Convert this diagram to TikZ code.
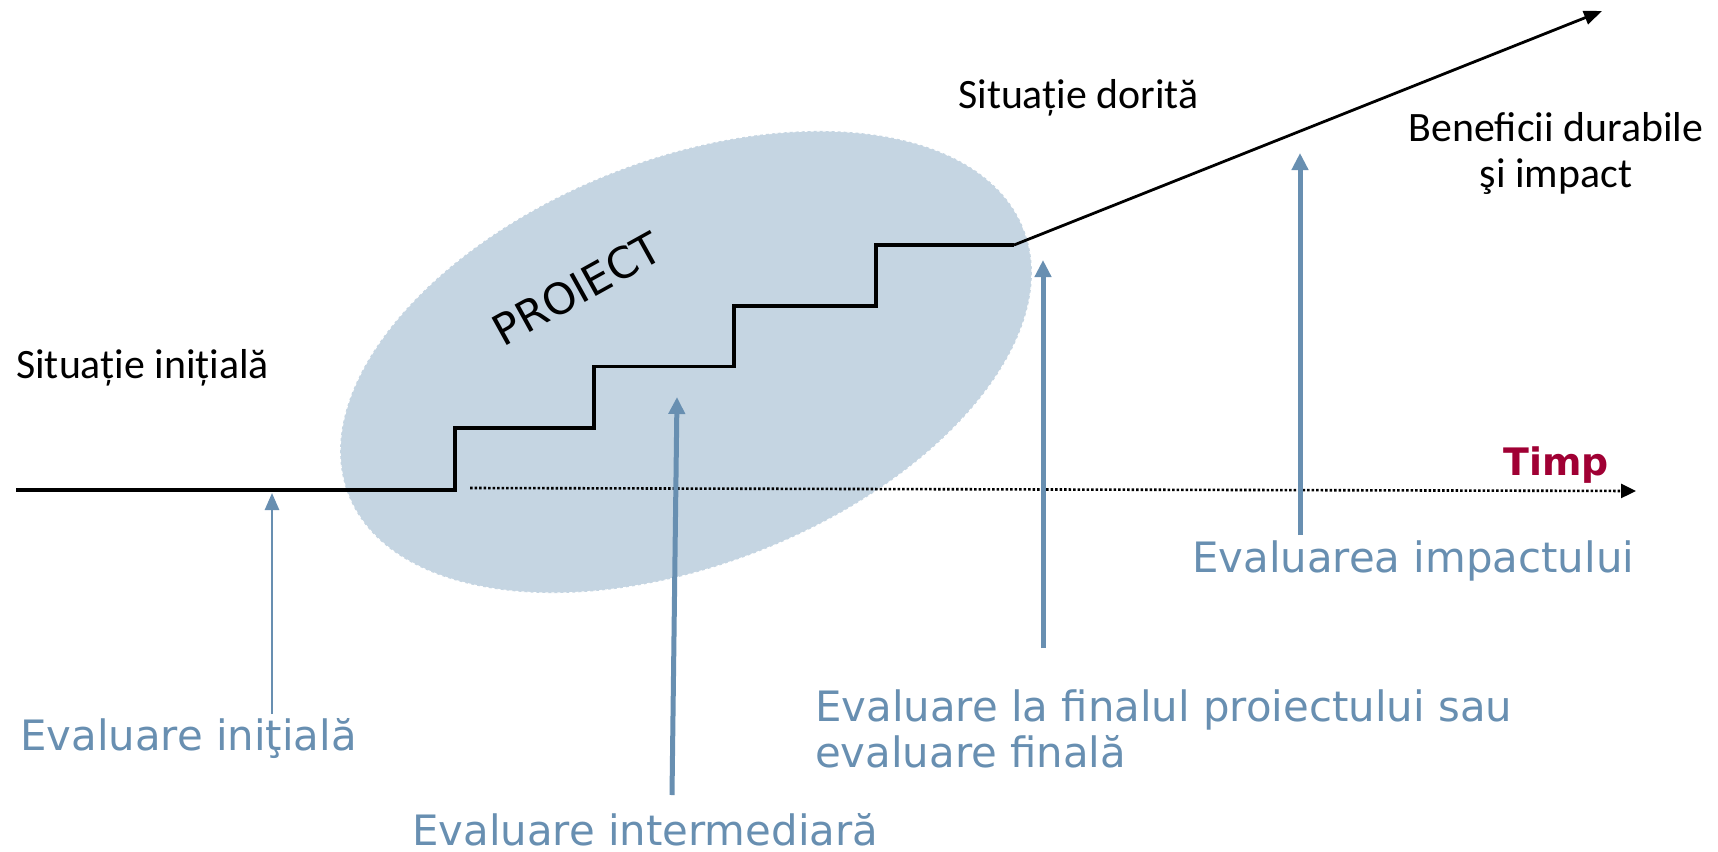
\documentclass[tikz,border=0pt]{standalone}
\usepackage{fontspec}
\setmainfont{Carlito}
\newfontfamily\lblfont{DejaVu Sans}
\usetikzlibrary{arrows.meta,shapes.geometric}
\definecolor{ellfill}{RGB}{197,213,226}
\definecolor{evblue}{RGB}{104,143,177}
\definecolor{timpred}{RGB}{160,0,52}
\begin{document}
\begin{tikzpicture}[x=1bp,y=-1bp,
  blacktext/.style={font=\fontsize{42}{46}\selectfont, inner sep=0pt, text=black},
  evlabel/.style={font=\lblfont\fontsize{42}{46}\selectfont, text=evblue, inner sep=0pt},
  evarrow/.style={draw=evblue, line width=5bp, -{Triangle[length=17bp,width=16bp]}},
  thinarrow/.style={draw=evblue, line width=2.6bp, -{Triangle[length=17bp,width=14bp]}},
  stairs/.style={line width=3.2bp, line join=miter},
  dotline/.style={line width=2.6bp, dash pattern=on 2.5bp off 2bp, -{Triangle[length=15bp,width=14bp]}}
]
\useasboundingbox (0,0) rectangle (1718,852);
\fill[white] (0,0) rectangle (1718,852);

% project ellipse with a slightly ragged edge
\node[ellipse, fill=ellfill, draw=white, line width=1.2bp, dash pattern=on 3bp off 3bp,
      minimum width=726bp, minimum height=406bp, rotate=21.5, inner sep=0pt, outer sep=0pt] (proj) at (686,362) {};
\node[font=\lblfont\fontsize{43}{46}\selectfont, rotate=29, inner sep=0pt] (projlabel) at (577,289) {PROIECT};

% stairs
\coordinate (s0) at (16,490);
\coordinate (s1) at (455,428);
\coordinate (s2) at (594,366.5);
\coordinate (s3) at (734,306);
\coordinate (s4) at (876,245);
\coordinate (s5) at (1014,245);
\coordinate (tipD) at (1602,11);
\draw[stairs] (s0) -| (s1) -| (s2) -| (s3) -| (s4) -- (s5);
\draw[line width=2.8bp, -{Triangle[length=18bp,width=14bp]}] (s5) -- (tipD);

% time axis
\coordinate (t0) at (470,488);
\coordinate (t1) at (1636,491);
\draw[dotline] (t0) -- (t1);

% evaluation arrows
\coordinate (a1b) at (272,714);
\coordinate (a1t) at (272,493);
\coordinate (a2b) at (672,795);
\coordinate (a2t) at (677,397);
\coordinate (a3b) at (1043,648);
\coordinate (a3t) at (1043,260);
\coordinate (a4b) at (1300,535);
\coordinate (a4t) at (1300,153);
\draw[thinarrow] (a1b) -- (a1t);
\draw[evarrow] (a2b) -- (a2t);
\draw[evarrow] (a3b) -- (a3t);
\draw[evarrow] (a4b) -- (a4t);

% labels
\node[blacktext, anchor=base west] (si) at (16,378) {Situație inițială};
\node[blacktext, anchor=base west] (sd) at (958,108) {Situație dorită};
\node[blacktext, align=center, anchor=base] (ben) at (1556,187) {Beneficii durabile\\şi impact};
\node[font=\lblfont\bfseries\fontsize{38}{40}\selectfont, text=timpred, inner sep=0pt, anchor=base west] (timp) at (1503,475) {Timp};
\node[evlabel, anchor=base west] (l1) at (20,750) {Evaluare iniţială};
\node[evlabel, anchor=base west] (l2) at (412,845) {Evaluare intermediară};
\node[evlabel, anchor=base west, align=left] (l3) at (815,767) {Evaluare la finalul proiectului sau\\evaluare finală};
\node[evlabel, anchor=base west] (l4) at (1192,572) {Evaluarea impactului};
\end{tikzpicture}
\end{document}
